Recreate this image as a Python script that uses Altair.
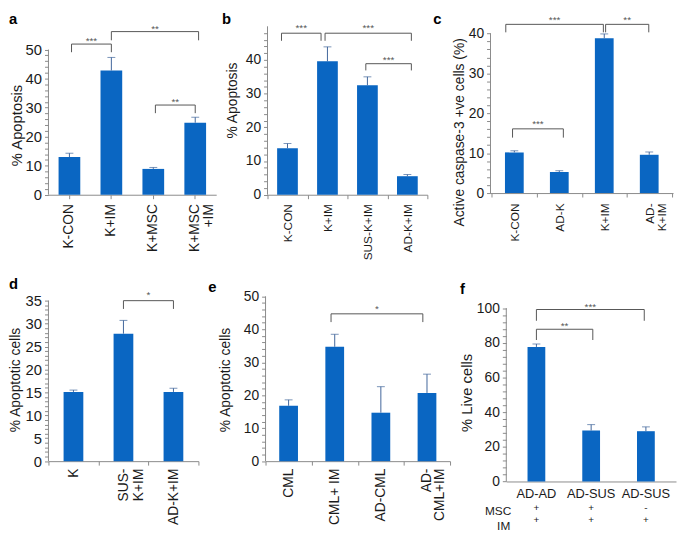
import altair as alt
import pandas as pd

FONT = "Liberation Sans"
BAR_COLOR = "#0a66c2"
ERR_COLOR = "#40659a"
BRACKET_COLOR = "#555555"
AXIS_COLOR = "#8a8a8a"
TEXT_COLOR = "#1a1a1a"

# ---------------- data ----------------
# panel a
a_labels = ["K-CON", "K+IM", "K+MSC", "K+MSC\n+IM"]
a_values = [13.0, 42.8, 8.9, 24.8]
a_err = [14.3, 47.3, 9.4, 26.7]
a_br_from = [0.05, 1.0, 2.05]
a_br_to = [1.0, 3.08, 3.0]
a_br_line = [51.9, 56.2, 30.9]
a_br_end = [49.1, 53.2, 28.1]
a_br_star = [53.8, 58.1, 33.0]
a_br_text = ["***", "**", "**"]

# panel b
b_labels = ["K-CON", "K+IM", "SUS-K+IM", "AD-K+IM"]
b_values = [13.8, 39.6, 32.5, 5.5]
b_err = [15.2, 43.9, 35.0, 6.0]
b_br_from = [-0.15, 0.94, 1.96]
b_br_to = [0.84, 3.1, 3.1]
b_br_line = [47.95, 47.95, 38.9]
b_br_end = [45.7, 45.7, 36.9]
b_br_star = [50.4, 50.4, 41.0]
b_br_text = ["***", "***", "***"]

# panel c
c_labels = ["K-CON", "AD-K", "K+IM", "AD-\nK+IM"]
c_values = [10.2, 5.3, 38.8, 9.6]
c_err = [10.6, 5.6, 39.9, 10.3]
c_br_from = [-0.19, 2.03, -0.04]
c_br_to = [1.98, 2.99, 1.09]
c_br_line = [42.3, 42.3, 16.1]
c_br_end = [40.3, 40.3, 13.9]
c_br_star = [44.2, 44.2, 18.0]
c_br_text = ["***", "**", "***"]

# panel d
d_labels = ["K", "SUS-\nK+IM", "AD-K+IM"]
d_values = [15.1, 27.8, 15.1]
d_err = [15.5, 30.7, 15.9]
d_br_from = [1.0]
d_br_to = [2.0]
d_br_line = [35.0]
d_br_end = [33.2]
d_br_star = [36.8]
d_br_text = ["*"]

# panel e
e_labels = ["CML", "CML+ IM", "AD-CML", "AD-\nCML+IM"]
e_values = [16.8, 34.7, 14.7, 20.7]
e_err = [18.6, 38.5, 22.6, 26.4]
e_br_from = [0.92]
e_br_to = [2.91]
e_br_line = [44.7]
e_br_end = [42.2]
e_br_star = [47.2]
e_br_text = ["*"]

# panel f
f_labels = ["AD-AD", "AD-SUS", "AD-SUS "]
f_values = [77.6, 29.4, 29.0]
f_err = [79.3, 32.8, 31.5]
f_msc = ["+", "+", "-"]
f_im = ["+", "+", "+"]
f_br_from = [0.0, 0.0]
f_br_to = [1.97, 1.03]
f_br_line = [99.2, 87.8]
f_br_end = [92.7, 81.6]
f_br_star = [102.4, 91.1]
f_br_text = ["***", "**"]


def make_panel(labels, values, err, br_from, br_to, br_line, br_end, br_star, br_text, lay, extra=None):
    n = len(labels)
    W, H, ppu, po = lay["w"], lay["h"], lay["ppu"], lay["po"]
    dmax = H / ppu
    yscale = alt.Scale(domain=[0, dmax], nice=False, zero=False)
    xlin = alt.Scale(domain=[-0.5 - po, n - 0.5 + po], nice=False, zero=False)
    df = pd.DataFrame({"cat": labels, "i": list(range(n)), "v": values, "e": err})

    ticks = []
    k = 0
    while k * lay["minor"] <= lay["top"] + 1e-9:
        ticks.append(round(k * lay["minor"], 6))
        k += 1
    yaxis = alt.Axis(
        values=ticks,
        labelExpr=f"datum.value % {lay['major']} === 0 ? datum.label : ''",
        domain=False, grid=False, ticks=True, tickSize=4, tickColor=AXIS_COLOR, tickWidth=1,
        labelFont=FONT, labelFontSize=lay["ylab_fs"], labelColor=TEXT_COLOR, labelPadding=3,
        labelOverlap=False, labelFlush=False,
        title=lay["ytitle"], titleFont=FONT, titleFontSize=lay["title_fs"], titleFontWeight="normal",
        titleColor=TEXT_COLOR, titleAngle=270, titleAlign="center", titleBaseline="bottom",
        titleX=lay["title_x"], titleY=lay["title_y"],
    )

    def Y(field):
        return alt.Y(field, scale=yscale, axis=yaxis)

    def XL(field):
        return alt.X(field, scale=xlin, axis=None)

    xkw = dict(
        title=None, domainColor=AXIS_COLOR, domainWidth=1, grid=False,
        labelFont=FONT, labelFontSize=lay["xlab_fs"], labelColor=TEXT_COLOR,
        labelAngle=lay["angle"], labelPadding=lay["xpad"], labelExpr=lay["xexpr"],
        labelLineHeight=lay["lh"],
    )
    if lay["tickband"]:
        xkw.update(ticks=True, tickBand=lay["tickband"], tickSize=4, tickColor=AXIS_COLOR)
    else:
        xkw.update(ticks=False, tickSize=0)
    xaxis = alt.Axis(**xkw)

    bars = alt.Chart(df).mark_bar(size=lay["bar_w"], color=BAR_COLOR).encode(
        x=alt.X("cat:N", sort=labels, scale=alt.Scale(paddingInner=0, paddingOuter=po), axis=xaxis),
        y=Y("v:Q"),
    )
    ydom = alt.Chart(pd.DataFrame({"v": [0], "y1": [lay["top"]]})).mark_rule(
        color=AXIS_COLOR, strokeWidth=1
    ).encode(x=alt.value(0), y=Y("v:Q"), y2="y1:Q")
    whisker = alt.Chart(df).mark_rule(color=ERR_COLOR, strokeWidth=1).encode(
        x=XL("i:Q"), y=Y("v:Q"), y2="e:Q",
    )
    cap = alt.Chart(df).mark_tick(color=ERR_COLOR, size=8, thickness=1, orient="horizontal").encode(
        x=XL("i:Q"), y=Y("e:Q"),
    )
    br = pd.DataFrame({"x1": br_from, "x2": br_to, "yl": br_line, "yb": br_end,
                       "ys": br_star, "t": br_text})
    br["xm"] = (br["x1"] + br["x2"]) / 2
    hline = alt.Chart(br).mark_rule(color=BRACKET_COLOR, strokeWidth=1).encode(
        x=XL("x1:Q"), x2="x2:Q", y=Y("yl:Q"),
    )
    lv = alt.Chart(br).mark_rule(color=BRACKET_COLOR, strokeWidth=1).encode(
        x=XL("x1:Q"), y=Y("yl:Q"), y2="yb:Q",
    )
    rv = alt.Chart(br).mark_rule(color=BRACKET_COLOR, strokeWidth=1).encode(
        x=XL("x2:Q"), y=Y("yl:Q"), y2="yb:Q",
    )
    stars = alt.Chart(br).mark_text(font=FONT, fontSize=10, color=BRACKET_COLOR,
                                    baseline="alphabetic", dy=6).encode(
        x=XL("xm:Q"), y=Y("ys:Q"), text="t:N",
    )
    letter = alt.Chart(pd.DataFrame({"t": [lay["letter"]]})).mark_text(
        font=FONT, fontSize=15, fontWeight="bold", color="#000000", align="left", baseline="top"
    ).encode(x=alt.value(lay["lx"]), y=alt.value(lay["ly"]), text="t:N")

    layers = [bars, ydom, whisker, cap, hline, lv, rv, stars, letter]
    if extra is not None:
        layers += extra(df, XL)
    return alt.layer(*layers).resolve_scale(x="independent").properties(width=W, height=H)


SPLIT = "split(datum.label, '\\n')"

lay_a = dict(w=170, h=170.7, ppu=2.942, po=0.0, bar_w=22, top=50, major=10, minor=2,
             ytitle="% Apoptosis", title_x=-24, title_y=100, ylab_fs=15, title_fs=15,
             xlab_fs=14, lh=14, angle=270, xpad=5, xexpr=SPLIT, tickband="center",
             letter="a", lx=-40, ly=-14)
lay_b = dict(w=162, h=170.7, ppu=3.414, po=0.0, bar_w=21, top=50, major=10, minor=2,
             ytitle="% Apoptosis", title_x=-28, title_y=74.7, ylab_fs=14, title_fs=14,
             xlab_fs=12, lh=13, angle=270, xpad=5, xexpr=SPLIT, tickband="extent",
             letter="b", lx=-46, ly=-14)
lay_c = dict(w=185, h=169, ppu=4.042, po=0.03, bar_w=19, top=40, major=10, minor=2,
             ytitle="Active caspase-3 +ve cells (%)", title_x=-24, title_y=107, ylab_fs=14,
             title_fs=14, xlab_fs=12, lh=13, angle=270, xpad=6, xexpr=SPLIT, tickband="extent",
             letter="c", lx=-58, ly=-14)
lay_d = dict(w=152, h=172.7, ppu=4.647, po=0.0, bar_w=20, top=35, major=5, minor=1,
             ytitle="% Apoptotic cells", title_x=-26, title_y=90, ylab_fs=15, title_fs=14,
             xlab_fs=14, lh=15, angle=270, xpad=3, xexpr=SPLIT, tickband="extent",
             letter="d", lx=-40, ly=-14)
lay_e = dict(w=187, h=172.7, ppu=3.34, po=0.0, bar_w=19, top=50, major=10, minor=2,
             ytitle="% Apoptotic cells", title_x=-34, title_y=90, ylab_fs=14, title_fs=14,
             xlab_fs=14, lh=13, angle=270, xpad=3, xexpr=SPLIT, tickband="extent",
             letter="e", lx=-58, ly=-11)
lay_f = dict(w=172, h=193.3, ppu=1.757, po=0.05, bar_w=18, top=100, major=20, minor=4,
             ytitle="% Live cells", title_x=-32, title_y=103, ylab_fs=14, title_fs=15,
             xlab_fs=13, lh=13, angle=0, xpad=6, xexpr="trim(datum.label)", tickband=None,
             letter="f", lx=-47, ly=-9)


def f_extra(df, XL):
    d2 = df.copy()
    d2["msc"] = f_msc
    d2["im"] = f_im
    msc_sym = alt.Chart(d2).mark_text(font=FONT, fontSize=10, color=TEXT_COLOR, baseline="middle").encode(
        x=XL("i:Q"), y=alt.value(220.7), text="msc:N")
    im_sym = alt.Chart(d2).mark_text(font=FONT, fontSize=10, color=TEXT_COLOR, baseline="middle").encode(
        x=XL("i:Q"), y=alt.value(232.7), text="im:N")
    msc_lab = alt.Chart(pd.DataFrame({"t": ["MSC"]})).mark_text(
        font=FONT, fontSize=12, color=TEXT_COLOR, align="right", baseline="middle"
    ).encode(x=alt.value(5), y=alt.value(223), text="t:N")
    im_lab = alt.Chart(pd.DataFrame({"t": ["IM"]})).mark_text(
        font=FONT, fontSize=12, color=TEXT_COLOR, align="right", baseline="middle"
    ).encode(x=alt.value(4), y=alt.value(238), text="t:N")
    return [msc_sym, im_sym, msc_lab, im_lab]


pa = make_panel(a_labels, a_values, a_err, a_br_from, a_br_to, a_br_line, a_br_end, a_br_star, a_br_text, lay_a)
pb = make_panel(b_labels, b_values, b_err, b_br_from, b_br_to, b_br_line, b_br_end, b_br_star, b_br_text, lay_b)
pc = make_panel(c_labels, c_values, c_err, c_br_from, c_br_to, c_br_line, c_br_end, c_br_star, c_br_text, lay_c)
pd_ = make_panel(d_labels, d_values, d_err, d_br_from, d_br_to, d_br_line, d_br_end, d_br_star, d_br_text, lay_d)
pe = make_panel(e_labels, e_values, e_err, e_br_from, e_br_to, e_br_line, e_br_end, e_br_star, e_br_text, lay_e)
pf = make_panel(f_labels, f_values, f_err, f_br_from, f_br_to, f_br_line, f_br_end, f_br_star, f_br_text, lay_f,
                extra=f_extra)

top = alt.hconcat(pa, pb, pc, spacing=4)
bottom = alt.hconcat(pd_, pe, pf, spacing=8)
chart = alt.vconcat(top, bottom, spacing=15).properties(
    padding=0, background="white"
).configure_view(stroke="transparent")

chart.save("out.html", embed_options={"renderer": "svg", "actions": False})
